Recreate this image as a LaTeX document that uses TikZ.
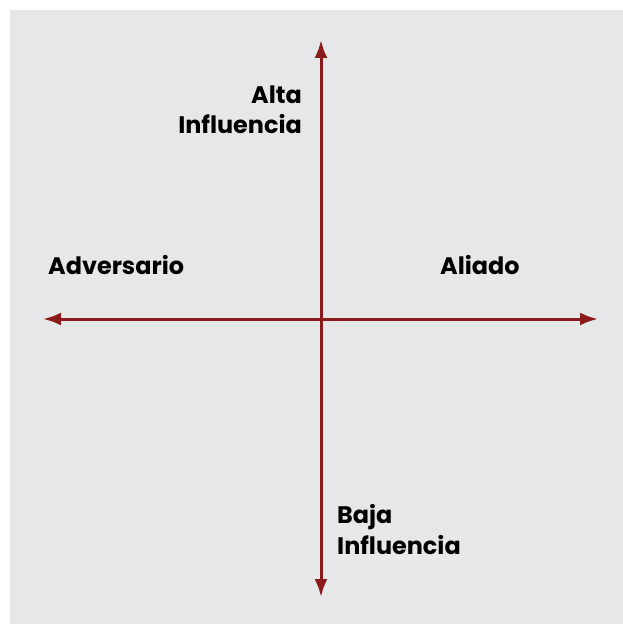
\documentclass[tikz,border=0pt]{standalone}
\usepackage{fontspec}
\setmainfont{Poppins}
\usepackage{tikz}
\usetikzlibrary{arrows.meta,backgrounds}

\definecolor{ejecolor}{HTML}{8B1A1A}
\definecolor{fondo}{HTML}{E6E7E8}

\begin{document}
\begin{tikzpicture}[x=1bp,y=-1bp,
	eje/.style={draw=ejecolor,line width=3bp,{Latex[length=18bp,width=13bp]}-{Latex[length=18bp,width=13bp]}},
	etiqueta/.style={inner sep=0pt,font=\fontsize{24}{31}\selectfont\bfseries}]
	\useasboundingbox (0,0) rectangle (623,624);
	\fill[fondo] (10,10) rectangle (623,624);
	\path (321,40) coordinate (arriba)
		  (321,597) coordinate (abajo)
		  (43,319) coordinate (izq)
		  (598,319) coordinate (der);
	\draw[eje] (abajo) -- (arriba);
	\draw[eje] (izq) -- (der);
	% base anchor sits on the last line
	\path (302,134) node (alta) [etiqueta,anchor=base east,align=right] {Alta\\Influencia}
		  (337,554) node (baja) [etiqueta,anchor=base west,align=left] {Baja\\Influencia}
		  (48,274) node (adversario) [etiqueta,anchor=base west] {Adversario}
		  (440,274) node (aliado) [etiqueta,anchor=base west] {Aliado};
\end{tikzpicture}
\end{document}
